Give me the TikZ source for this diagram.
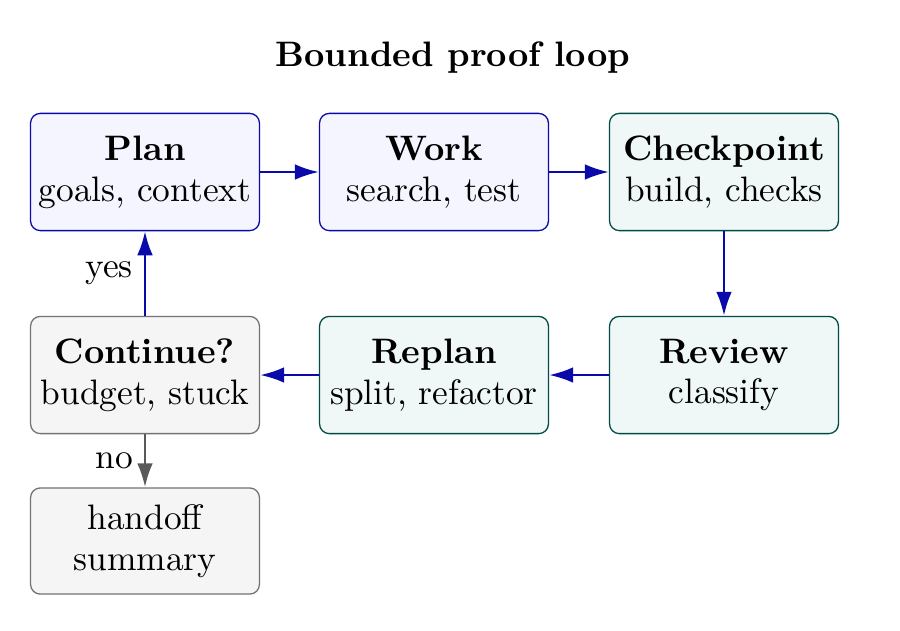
\documentclass[tikz,border=0pt]{standalone}
\usepackage{tikz}
\usetikzlibrary{arrows.meta,positioning}
\definecolor{flowblue}{RGB}{10,10,170}
\definecolor{darkteal}{RGB}{0,75,70}
\begin{document}
\begin{tikzpicture}[x=0.01083cm, y=-0.01083cm,
    every node/.style={font=\fontsize{10.9}{12.6}\selectfont},
    stage/.style={rectangle, draw=flowblue, fill=blue!4, rounded corners=3pt, minimum width=2.48cm, minimum height=1.27cm, inner xsep=1pt, align=center},
    check/.style={stage, draw=darkteal, fill=teal!6},
    decide/.style={stage, draw=gray!90!black, fill=gray!8},
    flow/.style={-{Latex[length=2.6mm,width=1.7mm]}, thick, flowblue}
]
\useasboundingbox (0,0) rectangle (900,630);

% Title
\node[font=\fontsize{10.9}{13}\selectfont\bfseries] (title) at (453,58) {Bounded proof loop};

% Top row
\node[stage] (plan) at (145,172) {\textbf{Plan}\\goals, context};
\node[stage] (work) at (434,172) {\textbf{Work}\\search, test};
\node[check] (checkpoint) at (724,172) {\textbf{Checkpoint}\\build, checks};

% Bottom row
\node[check] (review) at (724,375) {\textbf{Review}\\classify};
\node[check] (replan) at (434,375) {\textbf{Replan}\\split, refactor};
\node[decide] (continue) at (145,375) {\textbf{Continue?}\\budget, stuck};
\node[decide, minimum height=1.15cm] (handoff) at (145,541) {handoff\\summary};

% Arrows
\draw[flow] (plan) -- (work);
\draw[flow] (work) -- (checkpoint);
\draw[flow] (checkpoint) -- (review);
\draw[flow] (review) -- (replan);
\draw[flow] (replan) -- (continue);
\draw[flow] (continue) -- node[left, black] {yes} (plan);
\draw[flow, gray!70!black] (continue) -- node[left, black] {no} (handoff);

\end{tikzpicture}
\end{document}
